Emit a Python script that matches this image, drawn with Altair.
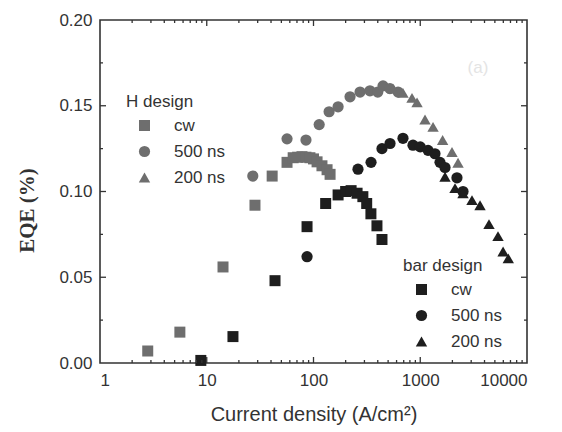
import altair as alt
import pandas as pd

# ---- data ----
h_cw_x = [2.8, 5.6, 14.2, 28.3, 41, 56.5, 64.5, 71, 78, 85, 92.6, 100, 108, 120, 134, 143]
h_cw_y = [0.007, 0.018, 0.056, 0.092, 0.109, 0.117, 0.1197, 0.120, 0.1203, 0.120, 0.1197, 0.119, 0.1173, 0.115, 0.1127, 0.110]

h_500_x = [27, 56.5, 85, 113, 140, 170, 220, 273, 338, 400, 448, 520, 620]
h_500_y = [0.109, 0.1307, 0.130, 0.139, 0.1465, 0.1494, 0.1552, 0.158, 0.1587, 0.158, 0.1616, 0.160, 0.158]

h_200_x = [556, 689, 837, 933, 1108, 1318, 1620, 1983, 2259]
h_200_y = [0.160, 0.1575, 0.1546, 0.152, 0.142, 0.1377, 0.130, 0.123, 0.1168]

bar_cw_x = [8.8, 17.6, 43.6, 87, 130, 170, 200, 225, 256, 290, 315, 345, 393, 438]
bar_cw_y = [0.0015, 0.0154, 0.048, 0.0795, 0.093, 0.098, 0.100, 0.1005, 0.099, 0.097, 0.093, 0.087, 0.080, 0.072]

bar_500_x = [87, 261, 346, 438, 521, 689, 855, 1000, 1183, 1374, 1531, 1706, 2207, 2514]
bar_500_y = [0.062, 0.113, 0.117, 0.125, 0.128, 0.131, 0.127, 0.126, 0.124, 0.122, 0.117, 0.114, 0.108, 0.100]

bar_200_x = [1706, 2117, 2514, 3052, 3631, 4406, 5350, 5970, 6680]
bar_200_y = [0.1086, 0.102, 0.099, 0.095, 0.092, 0.081, 0.074, 0.065, 0.061]

series_names = ["cw", "500 ns", "200 ns"]
x_tick_labels = [1, 10, 100, 1000, 10000]
y_tick_labels = [0.0, 0.05, 0.10, 0.15, 0.20]
x_minor = [k * 10 ** d for d in range(4) for k in range(2, 10)]
y_minor = [0.025, 0.075, 0.125, 0.175]

GRAY = "#6e6e6e"
BLACK = "#1e1e1e"
TXT = "#333333"
FONT = "Liberation Sans"

def frame(xs, ys, name):
    return pd.DataFrame({"x": xs, "y": ys, "series": name})

h_df = pd.concat([frame(h_cw_x, h_cw_y, "cw"), frame(h_500_x, h_500_y, "500 ns"),
                  frame(h_200_x, h_200_y, "200 ns")])
bar_df = pd.concat([frame(bar_cw_x, bar_cw_y, "cw"), frame(bar_500_x, bar_500_y, "500 ns"),
                    frame(bar_200_x, bar_200_y, "200 ns")])

W, H = 427, 343
xscale = alt.Scale(type="log", domain=[1, 10000])
yscale = alt.Scale(domain=[0, 0.2], nice=False, zero=False)

x_axis = alt.Axis(values=x_tick_labels, format="d",
                  title="Current density (A/cm²)", titleFont=FONT,
                  titleFontSize=20, titleFontWeight="normal",
                  titleColor=TXT, titlePadding=16, labelPadding=9)
y_axis = alt.Axis(values=y_tick_labels, format=".2f", title="EQE (%)",
                  titleFont="Liberation Serif", titleFontSize=21,
                  titleFontWeight="bold", titleColor=TXT,
                  titleX=-73, titleY=190, titleBaseline="middle",
                  labelPadding=8)

def legend(title, lx, ly):
    return alt.Legend(orient="none", legendX=lx, legendY=ly, title=title,
                      titleFont=FONT, titleFontSize=17, titleFontWeight="normal",
                      titleColor=TXT, titlePadding=6, labelFont=FONT, labelFontSize=17,
                      labelColor=TXT, symbolSize=140, symbolStrokeWidth=0,
                      symbolOpacity=1, rowPadding=8, labelOffset=21, symbolOffset=10,
                      padding=0)

def points(df, color, title, lx, ly):
    return alt.Chart(df).mark_point(filled=True, opacity=1, strokeWidth=0).encode(
        x=alt.X("x:Q", scale=xscale, axis=x_axis),
        y=alt.Y("y:Q", scale=yscale, axis=y_axis),
        color=alt.Color("series:N", scale=alt.Scale(domain=series_names, range=[color] * 3),
                        legend=legend(title, lx, ly), sort=series_names),
        shape=alt.Shape("series:N", scale=alt.Scale(domain=series_names,
                                                    range=["square", "circle", "triangle-up"]),
                        legend=legend(title, lx, ly), sort=series_names),
        size=alt.Size("series:N", scale=alt.Scale(domain=series_names, range=[121, 130, 165]),
                      legend=None),
    )

h_layer = points(h_df, GRAY, "H design", 26, 74)
bar_layer = points(bar_df, BLACK, "bar design", 303, 238)

xt = pd.DataFrame({"v": x_tick_labels[1:-1]})
xm = pd.DataFrame({"v": x_minor})
yt = pd.DataFrame({"v": y_tick_labels[1:-1]})
ym = pd.DataFrame({"v": y_minor})

def xticks(df, length):
    base = alt.Chart(df).mark_rule(color=TXT, strokeWidth=1.3)
    xe = alt.X("v:Q", scale=xscale, axis=x_axis)
    return (base.encode(x=xe, y=alt.value(H), y2=alt.value(H - length)) +
            base.encode(x=xe, y=alt.value(0), y2=alt.value(length)))

def yticks(df, length):
    base = alt.Chart(df).mark_rule(color=TXT, strokeWidth=1.3)
    ye = alt.Y("v:Q", scale=yscale, axis=y_axis)
    return (base.encode(y=ye, x=alt.value(0), x2=alt.value(length)) +
            base.encode(y=ye, x=alt.value(W), x2=alt.value(W - length)))

label_df = pd.DataFrame({"x": [3470], "y": [0.172], "t": ["(a)"]})
label = alt.Chart(label_df).mark_text(font=FONT, fontSize=17, color="#e4e4e4").encode(
    x=alt.X("x:Q", scale=xscale, axis=x_axis), y=alt.Y("y:Q", scale=yscale, axis=y_axis),
    text="t:N")

chart = alt.layer(
    h_layer, bar_layer, xticks(xt, 6), xticks(xm, 3), yticks(yt, 6), yticks(ym, 3), label
).resolve_scale(color="independent", shape="independent", size="independent").resolve_legend(
    color="independent", shape="independent"
).properties(
    width=W, height=H,
    autosize=alt.AutoSizeParams(type="none"),
    padding={"left": 100, "top": 20, "right": 35, "bottom": 69},
    background="white",
).configure_view(stroke=TXT, strokeWidth=1.6).configure_axis(
    domain=False, ticks=False, grid=False, labelFont=FONT, labelFontSize=17, labelColor=TXT
)

chart.save("out.html", embed_options={"renderer": "svg", "actions": False})
